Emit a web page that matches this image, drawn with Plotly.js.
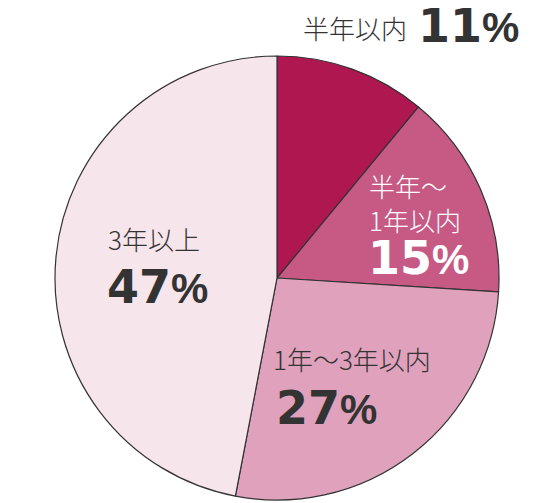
<!DOCTYPE html>
<html><head><meta charset="utf-8">
<script src="https://cdn.plot.ly/plotly-3.0.1.min.js"></script>
<style>html,body{margin:0;padding:0;background:#fff}#chart{width:554px;height:503px}</style>
</head><body><div id="chart"></div>
<script>
const categories = ["半年以内", "半年〜<br>1年以内", "1年〜3年以内", "3年以上"];
const values = [11, 15, 27, 47];
const sliceColors = ["#ae1750", "#c65a85", "#e0a1bc", "#f7e5ec"];
const textColors = ["#333333", "#ffffff", "#333333", "#333333"];

// label placement (pixel positions in the 554x503 frame)
const labelPos = [[301, 27], [367, 202], [271, 358], [106, 238]];
const pctPos = [[416, 26], [366, 258], [274, 408], [105, 287]];

const W = 554, H = 503;
const px = x => x / W, py = y => 1 - y / H;

const annotations = [];
categories.forEach((c, i) => {
  annotations.push({
    xref: 'paper', yref: 'paper', x: px(labelPos[i][0]), y: py(labelPos[i][1]),
    xanchor: 'left', yanchor: 'middle', align: 'left', showarrow: false,
    text: c,
    font: {family: '"Noto Sans CJK JP", sans-serif', size: 26, color: textColors[i], weight: 300}
  });
  annotations.push({
    xref: 'paper', yref: 'paper', x: px(pctPos[i][0]), y: py(pctPos[i][1]),
    xanchor: 'left', yanchor: 'middle', align: 'left', showarrow: false,
    text: '<b>' + values[i] + '</b><span style="font-family:Liberation Sans;font-size:42px"><b>%</b></span>',
    font: {family: '"DejaVu Sans", sans-serif', size: 46, color: textColors[i]}
  });
});

const data = [{
  type: 'pie',
  labels: categories,
  values: values,
  sort: false,
  direction: 'clockwise',
  rotation: 0,
  textinfo: 'none',
  hoverinfo: 'none',
  marker: {colors: sliceColors, line: {color: '#333333', width: 1.2}},
  domain: {x: [px(55), px(499)], y: [py(500), py(56)]},
  showlegend: false
}];

const layout = {
  width: W, height: H,
  margin: {l: 0, r: 0, t: 0, b: 0},
  paper_bgcolor: '#ffffff',
  showlegend: false,
  annotations: annotations
};

Plotly.newPlot('chart', data, layout, {displayModeBar: false, staticPlot: true});
</script>
</body></html>
